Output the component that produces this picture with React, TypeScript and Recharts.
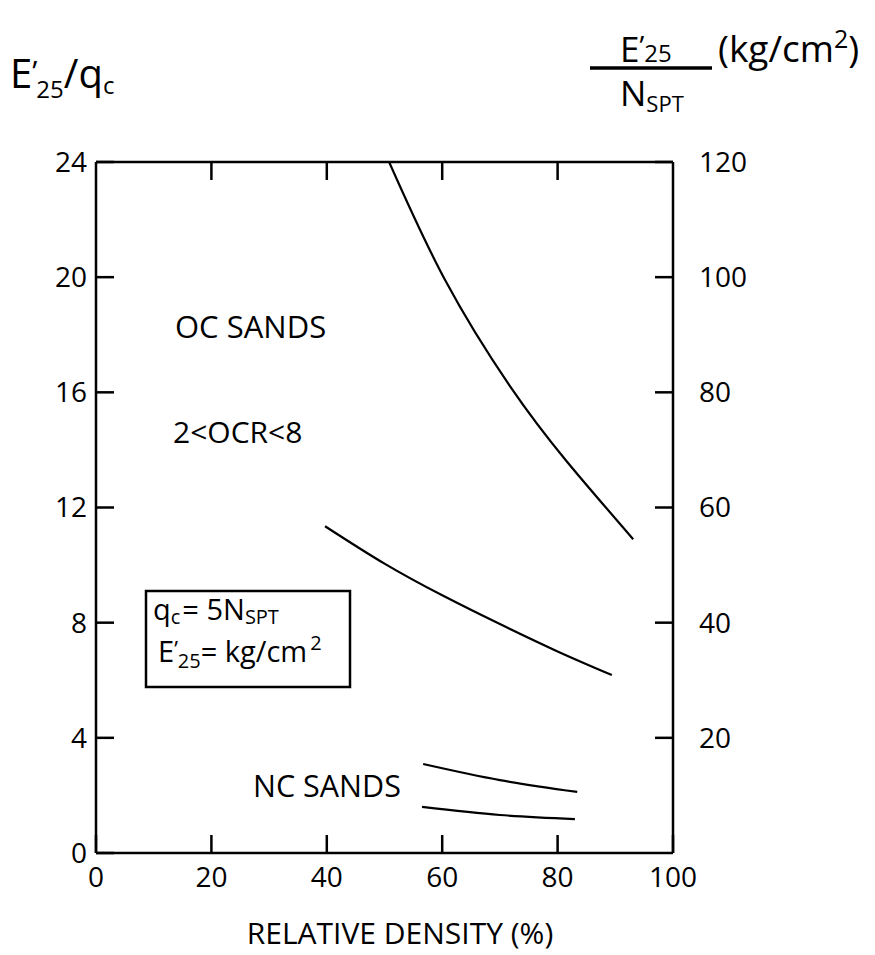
import React from 'react';
import { LineChart, Line, XAxis, YAxis } from 'recharts';

const xTicks = [0, 20, 40, 60, 80, 100];
const topTicks = [20, 40, 60, 80];
const leftTicks = [0, 4, 8, 12, 16, 20, 24];
const rightTicks = [20, 40, 60, 80, 100, 120];

const ocUpper = [
  { x: 50.8, y: 24 },
  { x: 60.5, y: 19.9 },
  { x: 71.8, y: 16.2 },
  { x: 81.6, y: 13.6 },
  { x: 93.1, y: 10.9 },
];
const ocLower = [
  { x: 39.7, y: 11.35 },
  { x: 50.0, y: 10.05 },
  { x: 60.0, y: 8.95 },
  { x: 70.0, y: 7.95 },
  { x: 80.0, y: 7.0 },
  { x: 89.4, y: 6.18 },
];
const ncUpper = [
  { x: 56.7, y: 3.09 },
  { x: 70.0, y: 2.53 },
  { x: 83.4, y: 2.12 },
];
const ncLower = [
  { x: 56.5, y: 1.6 },
  { x: 70.0, y: 1.32 },
  { x: 83.0, y: 1.18 },
];

const FONT = '"Open Sans", sans-serif';
const axisStroke = { stroke: '#000', strokeWidth: 2.5 };
const tickStyle = { fill: '#000', fontSize: 28, fontFamily: FONT };

export default function App() {
  return (
    <div style={{ position: 'absolute', left: 0, top: 0, width: 875, height: 955, background: '#fff' }}>
      <LineChart
        width={875}
        height={955}
        margin={{ top: 161, right: 201, bottom: 101, left: 95 }}
      >
        <XAxis
          xAxisId="bottom"
          dataKey="x"
          type="number"
          domain={[0, 100]}
          ticks={xTicks}
          interval={0}
          height={1}
          axisLine={axisStroke}
          tickLine={axisStroke}
          tickSize={-18}
          tickMargin={32}
          tick={tickStyle}
          allowDataOverflow
        />
        <XAxis
          xAxisId="top"
          orientation="top"
          dataKey="x"
          type="number"
          domain={[0, 100]}
          ticks={topTicks}
          interval={0}
          height={1}
          axisLine={axisStroke}
          tickLine={axisStroke}
          tickSize={-18}
          tickFormatter={() => ''}
          allowDataOverflow
        />
        <YAxis
          yAxisId="left"
          type="number"
          domain={[0, 24]}
          ticks={leftTicks}
          interval={0}
          width={1}
          axisLine={axisStroke}
          tickLine={axisStroke}
          tickSize={-18}
          tickMargin={27}
          tick={tickStyle}
          allowDataOverflow
        />
        <YAxis
          yAxisId="right"
          orientation="right"
          type="number"
          domain={[0, 120]}
          ticks={rightTicks}
          interval={0}
          width={1}
          axisLine={axisStroke}
          tickLine={axisStroke}
          tickSize={-18}
          tickMargin={44}
          tick={{ ...tickStyle, textAnchor: 'start' }}
          allowDataOverflow
        />
        {[ocUpper, ocLower, ncUpper, ncLower].map((d, i) => (
          <Line
            key={i}
            data={d}
            dataKey="y"
            xAxisId="bottom"
            yAxisId="left"
            type="natural"
            stroke="#000"
            strokeWidth={2.2}
            dot={false}
            activeDot={false}
            isAnimationActive={false}
          />
        ))}
      </LineChart>
      <svg
        width={875}
        height={955}
        style={{ position: 'absolute', left: 0, top: 0, pointerEvents: 'none' }}
        fontFamily={FONT}
        fill="#000"
      >
        {/* left title */}
        <text x={10} y={88} fontSize={40}>
          E<tspan fontSize={30} dy={-6}>’</tspan>
          <tspan fontSize={24} dx={-1} dy={16}>25</tspan>
          <tspan dy={-10}>/q</tspan>
          <tspan fontSize={24} dy={6}>c</tspan>
        </text>
        {/* right title fraction */}
        <text x={620} y={62} fontSize={35}>
          E<tspan fontSize={28} dy={-6}>’</tspan>
          <tspan fontSize={24} dx={0} dy={6}>25</tspan>
        </text>
        <line x1={590} x2={712} y1={68} y2={68} stroke="#000" strokeWidth={3.5} />
        <text x={620} y={106} fontSize={35}>
          N<tspan fontSize={22} dy={6}>SPT</tspan>
        </text>
        <text x={718} y={62} fontSize={37}>
          (kg/cm<tspan fontSize={25} dy={-14}>2</tspan>
          <tspan dy={14}>)</tspan>
        </text>
        {/* annotations */}
        <text x={175} y={338} fontSize={31}>OC SANDS</text>
        <text x={173} y={443} fontSize={30}>2&lt;OCR&lt;8</text>
        <text x={253} y={797} fontSize={30.5}>NC SANDS</text>
        <rect x={146} y={591} width={204} height={96} fill="none" stroke="#000" strokeWidth={2.5} />
        <text x={153} y={620} fontSize={29}>
          q<tspan fontSize={20} dy={4}>c</tspan>
          <tspan dy={-4} dx={2}>= 5N</tspan>
          <tspan fontSize={20} dy={4}>SPT</tspan>
        </text>
        <text x={158} y={662} fontSize={29}>
          E<tspan fontSize={22} dy={-5}>’</tspan>
          <tspan fontSize={20} dx={0} dy={11}>25</tspan>
          <tspan dy={-6}>= kg/cm</tspan>
          <tspan fontSize={20} dy={-12} dx={3}>2</tspan>
        </text>
        {/* x axis title */}
        <text x={400} y={944} fontSize={30} textAnchor="middle">RELATIVE DENSITY (%)</text>
      </svg>
    </div>
  );
}
